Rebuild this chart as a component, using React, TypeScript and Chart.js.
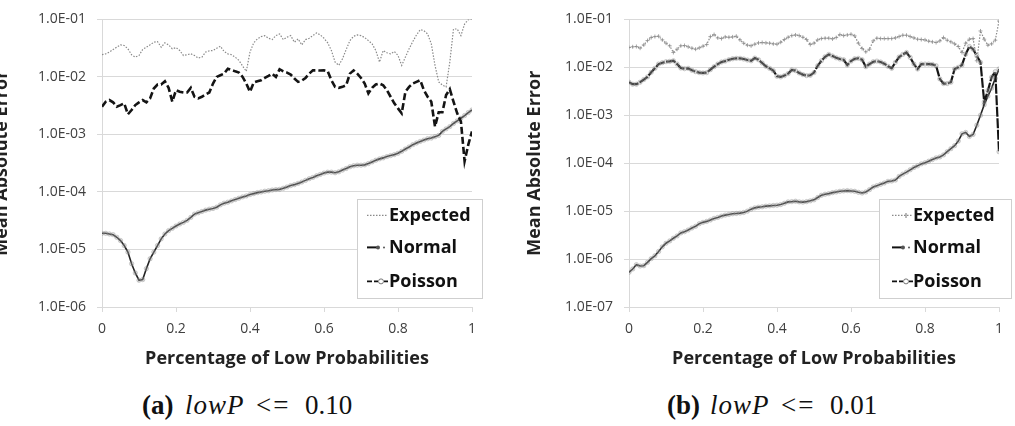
import React, { useEffect, useRef } from 'react';
import { Chart, registerables } from 'chart.js';

Chart.register(...registerables);

const xValues = [
  0, 0.01, 0.02, 0.03, 0.04, 0.05, 0.06, 0.07, 0.08, 0.09,
  0.1, 0.11, 0.12, 0.13, 0.14, 0.15, 0.16, 0.17, 0.18, 0.19,
  0.2, 0.21, 0.22, 0.23, 0.24, 0.25, 0.26, 0.27, 0.28, 0.29,
  0.3, 0.31, 0.32, 0.33, 0.34, 0.35, 0.36, 0.37, 0.38, 0.39,
  0.4, 0.41, 0.42, 0.43, 0.44, 0.45, 0.46, 0.47, 0.48, 0.49,
  0.5, 0.51, 0.52, 0.53, 0.54, 0.55, 0.56, 0.57, 0.58, 0.59,
  0.6, 0.61, 0.62, 0.63, 0.64, 0.65, 0.66, 0.67, 0.68, 0.69,
  0.7, 0.71, 0.72, 0.73, 0.74, 0.75, 0.76, 0.77, 0.78, 0.79,
  0.8, 0.81, 0.82, 0.83, 0.84, 0.85, 0.86, 0.87, 0.88, 0.89,
  0.9, 0.91, 0.92, 0.93, 0.94, 0.95, 0.96, 0.97, 0.98, 0.99,
  1,
];

const seriesNames = ['Expected', 'Normal', 'Poisson'];

// (a) lowP <= 0.10
const expectedA = [
  0.0243, 0.0252, 0.0270, 0.0300, 0.0329, 0.0361, 0.0352, 0.0308, 0.0243, 0.0221,
  0.0236, 0.0300, 0.0329, 0.0361, 0.0401, 0.0412, 0.0329, 0.0391, 0.0361, 0.0308,
  0.0324, 0.0288, 0.0236, 0.0243, 0.0252, 0.0236, 0.0213, 0.0221, 0.0270, 0.0284,
  0.0288, 0.0316, 0.0342, 0.0277, 0.0252, 0.0243, 0.0221, 0.0194, 0.0155, 0.0125,
  0.0270, 0.0391, 0.0458, 0.0502, 0.0523, 0.0470, 0.0446, 0.0523, 0.0558, 0.0446,
  0.0490, 0.0523, 0.0401, 0.0458, 0.0361, 0.0446, 0.0470, 0.0523, 0.0581, 0.0537,
  0.0470, 0.0391, 0.0288, 0.0181, 0.0159, 0.0207, 0.0300, 0.0428, 0.0509, 0.0537,
  0.0523, 0.0483, 0.0428, 0.0376, 0.0288, 0.0181, 0.0288, 0.0263, 0.0252, 0.0277,
  0.0236, 0.0159, 0.0221, 0.0308, 0.0412, 0.0537, 0.0663, 0.0638, 0.0558, 0.0376,
  0.0159, 0.0082, 0.0072, 0.0067, 0.0181, 0.0681, 0.0681, 0.0523, 0.0832, 0.0990,
  0.1,
];
const normalA = [
  1.91e-5, 1.91e-5, 1.86e-5, 1.81e-5, 1.63e-5, 1.43e-5, 1.17e-5, 9.0e-6, 5.66e-6, 3.91e-6,
  2.92e-6, 3.0e-6, 4.65e-6, 6.9e-6, 9.0e-6, 1.17e-5, 1.53e-5, 1.86e-5, 2.13e-5, 2.33e-5,
  2.56e-5, 2.77e-5, 2.96e-5, 3.21e-5, 3.61e-5, 4.12e-5, 4.35e-5, 4.58e-5, 4.83e-5, 5.02e-5,
  5.16e-5, 5.44e-5, 5.97e-5, 6.38e-5, 6.64e-5, 7.0e-5, 7.38e-5, 7.78e-5, 8.2e-5, 8.53e-5,
  9.0e-5, 9.36e-5, 9.74e-5, 1.0e-4, 1.03e-4, 1.05e-4, 1.08e-4, 1.10e-4, 1.11e-4, 1.16e-4,
  1.22e-4, 1.29e-4, 1.34e-4, 1.41e-4, 1.49e-4, 1.59e-4, 1.70e-4, 1.79e-4, 1.91e-4, 2.02e-4,
  2.13e-4, 2.21e-4, 2.21e-4, 2.16e-4, 2.24e-4, 2.40e-4, 2.56e-4, 2.74e-4, 2.85e-4, 2.92e-4,
  2.92e-4, 2.96e-4, 3.12e-4, 3.33e-4, 3.56e-4, 3.76e-4, 3.91e-4, 4.12e-4, 4.29e-4, 4.46e-4,
  4.70e-4, 5.09e-4, 5.58e-4, 6.05e-4, 6.64e-4, 7.10e-4, 7.57e-4, 7.98e-4, 8.42e-4, 8.65e-4,
  9.12e-4, 9.62e-4, 1.13e-3, 1.25e-3, 1.37e-3, 1.55e-3, 1.72e-3, 1.91e-3, 2.13e-3, 2.40e-3,
  2.66e-3,
];
const poissonA = [
  0.00304, 0.00371, 0.00396, 0.00361, 0.00304, 0.00324, 0.00347, 0.00224, 0.00266, 0.00324,
  0.00361, 0.00396, 0.00361, 0.00423, 0.00629, 0.00738, 0.00738, 0.00842, 0.00646, 0.00371,
  0.00589, 0.00551, 0.00537, 0.00537, 0.00646, 0.00452, 0.00423, 0.00452, 0.00496, 0.00537,
  0.00767, 0.0100, 0.0107, 0.0114, 0.0139, 0.0132, 0.0125, 0.0119, 0.0100, 0.00767,
  0.00551, 0.00798, 0.00842, 0.00877, 0.0096, 0.0104, 0.0114, 0.0100, 0.0136, 0.0125,
  0.0119, 0.0110, 0.00936, 0.00820, 0.00865, 0.0096, 0.0114, 0.0130, 0.0130, 0.0129,
  0.0130, 0.0125, 0.00877, 0.00672, 0.00646, 0.00672, 0.00718, 0.0114, 0.0130, 0.0114,
  0.0096, 0.00767, 0.00516, 0.00646, 0.00738, 0.00767, 0.00718, 0.00589, 0.00452, 0.00347,
  0.00284, 0.00233, 0.00551, 0.00672, 0.00767, 0.00820, 0.00877, 0.00589, 0.00452, 0.00371,
  0.00137, 0.00243, 0.00243, 0.00483, 0.00612, 0.00371, 0.00233, 0.00168, 0.000342, 0.000664,
  0.00113,
];

// (b) lowP <= 0.01
const expectedB = [
  0.0259, 0.0268, 0.0272, 0.0251, 0.0294, 0.0362, 0.0418, 0.0438, 0.0445, 0.0374,
  0.0319, 0.0281, 0.0204, 0.0239, 0.0281, 0.0285, 0.0268, 0.0251, 0.0239, 0.0255,
  0.0276, 0.0299, 0.0438, 0.0482, 0.0411, 0.0398, 0.0431, 0.0424, 0.0431, 0.0445,
  0.0374, 0.0319, 0.0290, 0.0281, 0.0304, 0.0324, 0.0329, 0.0324, 0.0319, 0.0309,
  0.0304, 0.0334, 0.0380, 0.0424, 0.0459, 0.0474, 0.0459, 0.0424, 0.0380, 0.0299,
  0.0319, 0.0374, 0.0398, 0.0405, 0.0405, 0.0392, 0.0418, 0.0482, 0.0459, 0.0474,
  0.0490, 0.0452, 0.0319, 0.0247, 0.0211, 0.0239, 0.0356, 0.0405, 0.0398, 0.0398,
  0.0398, 0.0398, 0.0411, 0.0438, 0.0467, 0.0467, 0.0438, 0.0411, 0.0386, 0.0380,
  0.0374, 0.0351, 0.0340, 0.0329, 0.0356, 0.0418, 0.0368, 0.0340, 0.0309, 0.0272,
  0.0204, 0.0319, 0.0386, 0.0398, 0.0137, 0.0574, 0.0386, 0.0290, 0.0309, 0.0368,
  0.0924,
];
const normalB = [
  5.30e-7, 6.21e-7, 7.64e-7, 7.16e-7, 7.28e-7, 8.53e-7, 1.02e-6, 1.17e-6, 1.44e-6, 1.80e-6,
  2.14e-6, 2.39e-6, 2.72e-6, 3.04e-6, 3.51e-6, 3.73e-6, 4.04e-6, 4.45e-6, 4.82e-6, 5.47e-6,
  5.83e-6, 6.11e-6, 6.52e-6, 7.05e-6, 7.40e-6, 7.88e-6, 8.26e-6, 8.53e-6, 8.81e-6, 8.95e-6,
  9.10e-6, 9.38e-6, 1.0e-5, 1.10e-5, 1.17e-5, 1.21e-5, 1.23e-5, 1.27e-5, 1.29e-5, 1.31e-5,
  1.33e-5, 1.37e-5, 1.46e-5, 1.56e-5, 1.58e-5, 1.61e-5, 1.56e-5, 1.54e-5, 1.58e-5, 1.64e-5,
  1.72e-5, 1.92e-5, 2.14e-5, 2.25e-5, 2.32e-5, 2.43e-5, 2.51e-5, 2.59e-5, 2.64e-5, 2.68e-5,
  2.64e-5, 2.59e-5, 2.47e-5, 2.39e-5, 2.51e-5, 2.81e-5, 3.19e-5, 3.40e-5, 3.62e-5, 3.86e-5,
  4.18e-5, 4.25e-5, 4.45e-5, 5.30e-5, 5.92e-5, 6.51e-5, 7.28e-5, 8.13e-5, 8.81e-5, 9.68e-5,
  1.02e-4, 1.10e-4, 1.19e-4, 1.29e-4, 1.35e-4, 1.49e-4, 1.74e-4, 2.01e-4, 2.32e-4, 2.90e-4,
  4.11e-4, 4.38e-4, 3.62e-4, 3.98e-4, 6.21e-4, 1.0e-3, 1.66e-3, 2.51e-3, 3.68e-3, 5.91e-3,
  9.24e-3,
];
const poissonB = [
  0.00490, 0.00445, 0.00445, 0.00490, 0.00556, 0.00631, 0.00788, 0.00953, 0.0117, 0.0125,
  0.0131, 0.0133, 0.0137, 0.0117, 0.00968, 0.00938, 0.00953, 0.00867, 0.00813, 0.00776,
  0.00764, 0.00776, 0.00895, 0.0103, 0.0117, 0.0129, 0.0135, 0.0144, 0.0151, 0.0154,
  0.0154, 0.0149, 0.0142, 0.0137, 0.0156, 0.0144, 0.0123, 0.0105, 0.00953, 0.00853,
  0.00651, 0.00631, 0.00672, 0.00740, 0.00881, 0.00853, 0.00764, 0.00705, 0.00672, 0.00683,
  0.00776, 0.0108, 0.0137, 0.0166, 0.0186, 0.0172, 0.0158, 0.0149, 0.0144, 0.0112,
  0.0135, 0.0151, 0.0154, 0.0144, 0.0103, 0.0117, 0.0131, 0.0135, 0.0129, 0.0119,
  0.0105, 0.00953, 0.0127, 0.0164, 0.0186, 0.0204, 0.0161, 0.0117, 0.00924, 0.0117,
  0.0117, 0.0117, 0.0115, 0.0108, 0.00574, 0.00459, 0.00459, 0.00490, 0.00924, 0.0100,
  0.0112, 0.0189, 0.0272, 0.0239, 0.0174, 0.0127, 0.00189, 0.00329, 0.00621, 0.00813,
  0.000174,
];

const xTickValues = [0, 0.2, 0.4, 0.6, 0.8, 1];
const xTickLabels = ['0', '0.2', '0.4', '0.6', '0.8', '1'];
const yTickValuesA = [1e-6, 1e-5, 1e-4, 1e-3, 1e-2, 1e-1];
const yTickLabelsA = ['1.0E-06', '1.0E-05', '1.0E-04', '1.0E-03', '1.0E-02', '1.0E-01'];
const yTickValuesB = [1e-7, 1e-6, 1e-5, 1e-4, 1e-3, 1e-2, 1e-1];
const yTickLabelsB = ['1.0E-07', '1.0E-06', '1.0E-05', '1.0E-04', '1.0E-03', '1.0E-02', '1.0E-01'];

const FONT = '"Open Sans", "DejaVu Sans", sans-serif';
const GRID = '#d9d9d9';

function toPoints(vals: number[]) {
  return vals.map((v, i) => ({ x: xValues[i], y: v }));
}

type Panel = {
  key: string;
  expected: number[];
  normal: number[];
  poisson: number[];
  yTicks: number[];
  yLabels: string[];
  yWidth: number;
  padRight: number;
  boxL: number;
  boxR: number;
  sampleOff: number;
  textOff: number;
  crossMarks: boolean;
  poissonDash: number[];
  poissonWidth: number;
  poissonPoints: number;
};

function legendPlugin(p: Panel) {
  return {
    id: 'boxLegend' + p.key,
    afterDraw(chart: any) {
      const { ctx, chartArea } = chart;
      const bl = chartArea.right + p.boxL;
      const br = chartArea.right + p.boxR;
      const bt = chartArea.top + 180;
      const bb = chartArea.top + 279;
      ctx.save();
      ctx.fillStyle = '#ffffff';
      ctx.fillRect(bl, bt, br - bl, bb - bt);
      ctx.strokeStyle = '#cfcfcf';
      ctx.lineWidth = 1;
      ctx.setLineDash([]);
      ctx.strokeRect(Math.round(bl) + 0.5, Math.round(bt) + 0.5, br - bl, bb - bt);
      const ys = [196, 228, 262].map((d) => chartArea.top + d);
      const sx = bl + p.sampleOff;
      // Expected
      ctx.strokeStyle = '#8a8a8a';
      ctx.lineWidth = 1.2;
      ctx.setLineDash([1.5, 1.5]);
      ctx.beginPath();
      ctx.moveTo(sx, ys[0]);
      ctx.lineTo(sx + 20, ys[0]);
      ctx.stroke();
      ctx.setLineDash([]);
      if (p.crossMarks) {
        ctx.beginPath();
        ctx.moveTo(sx + 14, ys[0] - 2.5);
        ctx.lineTo(sx + 14, ys[0] + 2.5);
        ctx.stroke();
      }
      // Normal
      ctx.strokeStyle = '#111';
      ctx.lineWidth = 2;
      ctx.beginPath();
      ctx.moveTo(sx, ys[1]);
      ctx.lineTo(sx + 12, ys[1]);
      ctx.stroke();
      ctx.fillStyle = '#555';
      ctx.beginPath();
      ctx.arc(sx + 11, ys[1], 2, 0, Math.PI * 2);
      ctx.fill();
      ctx.beginPath();
      ctx.arc(sx + 17, ys[1], 1, 0, Math.PI * 2);
      ctx.fill();
      // Poisson
      ctx.strokeStyle = '#111';
      ctx.lineWidth = 1.6;
      ctx.beginPath();
      ctx.moveTo(sx, ys[2]);
      ctx.lineTo(sx + 5, ys[2]);
      ctx.moveTo(sx + 7, ys[2]);
      ctx.lineTo(sx + 11, ys[2]);
      ctx.moveTo(sx + 17, ys[2]);
      ctx.lineTo(sx + 21, ys[2]);
      ctx.stroke();
      ctx.strokeStyle = '#777';
      ctx.lineWidth = 1;
      ctx.beginPath();
      ctx.arc(sx + 14, ys[2], 2.5, 0, Math.PI * 2);
      ctx.stroke();
      // texts
      ctx.fillStyle = '#111';
      ctx.font = 'bold 18px ' + FONT;
      ctx.textAlign = 'left';
      ctx.textBaseline = 'middle';
      seriesNames.forEach((n, i) => ctx.fillText(n, bl + p.textOff, ys[i]));
      ctx.restore();
    },
  };
}

function makeConfig(p: Panel): any {
  const minY = p.yTicks[0];
  const maxY = p.yTicks[p.yTicks.length - 1];
  return {
    type: 'line',
    data: {
      datasets: [
        {
          label: seriesNames[0],
          data: toPoints(p.expected),
          borderColor: '#8a8a8a',
          borderWidth: 1.2,
          borderDash: [1.5, 1.5],
          pointRadius: p.crossMarks ? 2 : 0,
          pointStyle: 'cross',
          pointBorderColor: '#8f8f8f',
          pointBorderWidth: 0.8,
          tension: 0,
        },
        {
          label: seriesNames[2],
          data: toPoints(p.poisson),
          borderColor: '#141414',
          borderWidth: p.poissonWidth,
          borderDash: p.poissonDash,
          pointRadius: p.poissonPoints,
          pointStyle: 'circle',
          pointBackgroundColor: 'rgba(170,170,170,0.35)',
          pointBorderColor: 'rgba(130,130,130,0.55)',
          pointBorderWidth: 0.6,
          tension: 0,
        },
        {
          label: seriesNames[1],
          data: toPoints(p.normal),
          borderColor: '#222',
          borderWidth: 1.6,
          pointRadius: 2.2,
          pointStyle: 'circle',
          pointBackgroundColor: 'rgba(170,170,170,0.35)',
          pointBorderColor: 'rgba(130,130,130,0.55)',
          pointBorderWidth: 0.6,
          tension: 0,
        },
      ],
    },
    options: {
      responsive: false,
      animation: false,
      events: [],
      layout: { padding: { top: 17, right: p.padRight, bottom: 0, left: 0 } },
      plugins: { legend: { display: false }, tooltip: { enabled: false } },
      scales: {
        x: {
          type: 'linear',
          min: 0,
          max: 1,
          afterBuildTicks: (s: any) => {
            s.ticks = xTickValues.map((v) => ({ value: v }));
          },
          afterFit: (s: any) => {
            s.height = 73;
          },
          ticks: {
            callback: (_v: any, i: number) => xTickLabels[i],
            color: '#404040',
            font: { family: FONT, size: 14 },
            padding: 9,
            maxRotation: 0,
            autoSkip: false,
          },
          grid: { drawOnChartArea: false, drawTicks: true, tickLength: 5, color: GRID },
          border: { display: true, color: GRID },
          title: {
            display: true,
            text: 'Percentage of Low Probabilities',
            color: '#222',
            font: { family: FONT, size: 18, weight: 'bold' },
            padding: { top: 0, bottom: 10 },
          },
        },
        y: {
          type: 'logarithmic',
          min: minY,
          max: maxY,
          afterBuildTicks: (s: any) => {
            s.ticks = p.yTicks.map((v) => ({ value: v }));
          },
          afterFit: (s: any) => {
            s.width = p.yWidth;
          },
          ticks: {
            callback: (_v: any, i: number) => p.yLabels[i],
            color: '#404040',
            font: { family: FONT, size: 14 },
            padding: 11,
            autoSkip: false,
          },
          grid: { color: GRID, tickLength: 5, drawTicks: true },
          border: { display: true, color: GRID },
          title: {
            display: true,
            text: 'Mean Absolute Error',
            color: '#222',
            font: { family: FONT, size: 18, weight: 'bold' },
            padding: { top: 2, bottom: 0 },
          },
        },
      },
    },
    plugins: [legendPlugin(p)],
  };
}

const panelA: Panel = {
  key: 'a',
  expected: expectedA,
  normal: normalA,
  poisson: poissonA,
  yTicks: yTickValuesA,
  yLabels: yTickLabelsA,
  yWidth: 113,
  padRight: 14,
  boxL: -115,
  boxR: 10,
  sampleOff: 10,
  textOff: 32,
  crossMarks: false,
  poissonDash: [7, 3],
  poissonWidth: 2.6,
  poissonPoints: 0,
};

const panelB: Panel = {
  key: 'b',
  expected: expectedB,
  normal: normalB,
  poisson: poissonB,
  yTicks: yTickValuesB,
  yLabels: yTickLabelsB,
  yWidth: 107,
  padRight: 16,
  boxL: -120,
  boxR: 12,
  sampleOff: 13,
  textOff: 34,
  crossMarks: true,
  poissonDash: [10, 1.5],
  poissonWidth: 2.2,
  poissonPoints: 2.2,
};

function ChartCanvas({ panel, left, width }: { panel: Panel; left: number; width: number }) {
  const ref = useRef<HTMLCanvasElement | null>(null);
  useEffect(() => {
    if (!ref.current) return;
    const chart = new Chart(ref.current, makeConfig(panel));
    return () => chart.destroy();
  }, [panel]);
  return (
    <canvas
      ref={ref}
      width={width}
      height={380}
      style={{ position: 'absolute', left, top: 0, width, height: 380, display: 'block' }}
    />
  );
}

function Caption({ left, tag, value }: { left: number; tag: string; value: string }) {
  const part = (x: number, extra: any) => ({ position: 'absolute' as const, left: x, top: 0, ...extra });
  return (
    <div
      style={{
        position: 'absolute',
        left,
        top: 390,
        width: 230,
        height: 30,
        fontFamily: '"Liberation Serif", "DejaVu Serif", serif',
        fontSize: 27,
        lineHeight: '30px',
        whiteSpace: 'pre',
        color: '#111',
      }}
    >
      <span style={part(0, { fontWeight: 'bold' })}>{tag}</span>
      <span style={part(43, { fontStyle: 'italic', letterSpacing: 1 })}>lowP</span>
      <span style={part(114, { letterSpacing: 2 })}>&lt;=</span>
      <span style={part(163, {})}>{value}</span>
    </div>
  );
}

export default function App() {
  return (
    <div
      style={{
        position: 'fixed',
        left: 0,
        top: 0,
        width: 1015,
        height: 426,
        background: '#ffffff',
        overflow: 'hidden',
      }}
    >
      <ChartCanvas panel={panelA} left={-11} width={497} />
      <ChartCanvas panel={panelB} left={522} width={493} />
      <Caption left={142} tag="(a)" value="0.10" />
      <Caption left={667} tag="(b)" value="0.01" />
    </div>
  );
}
